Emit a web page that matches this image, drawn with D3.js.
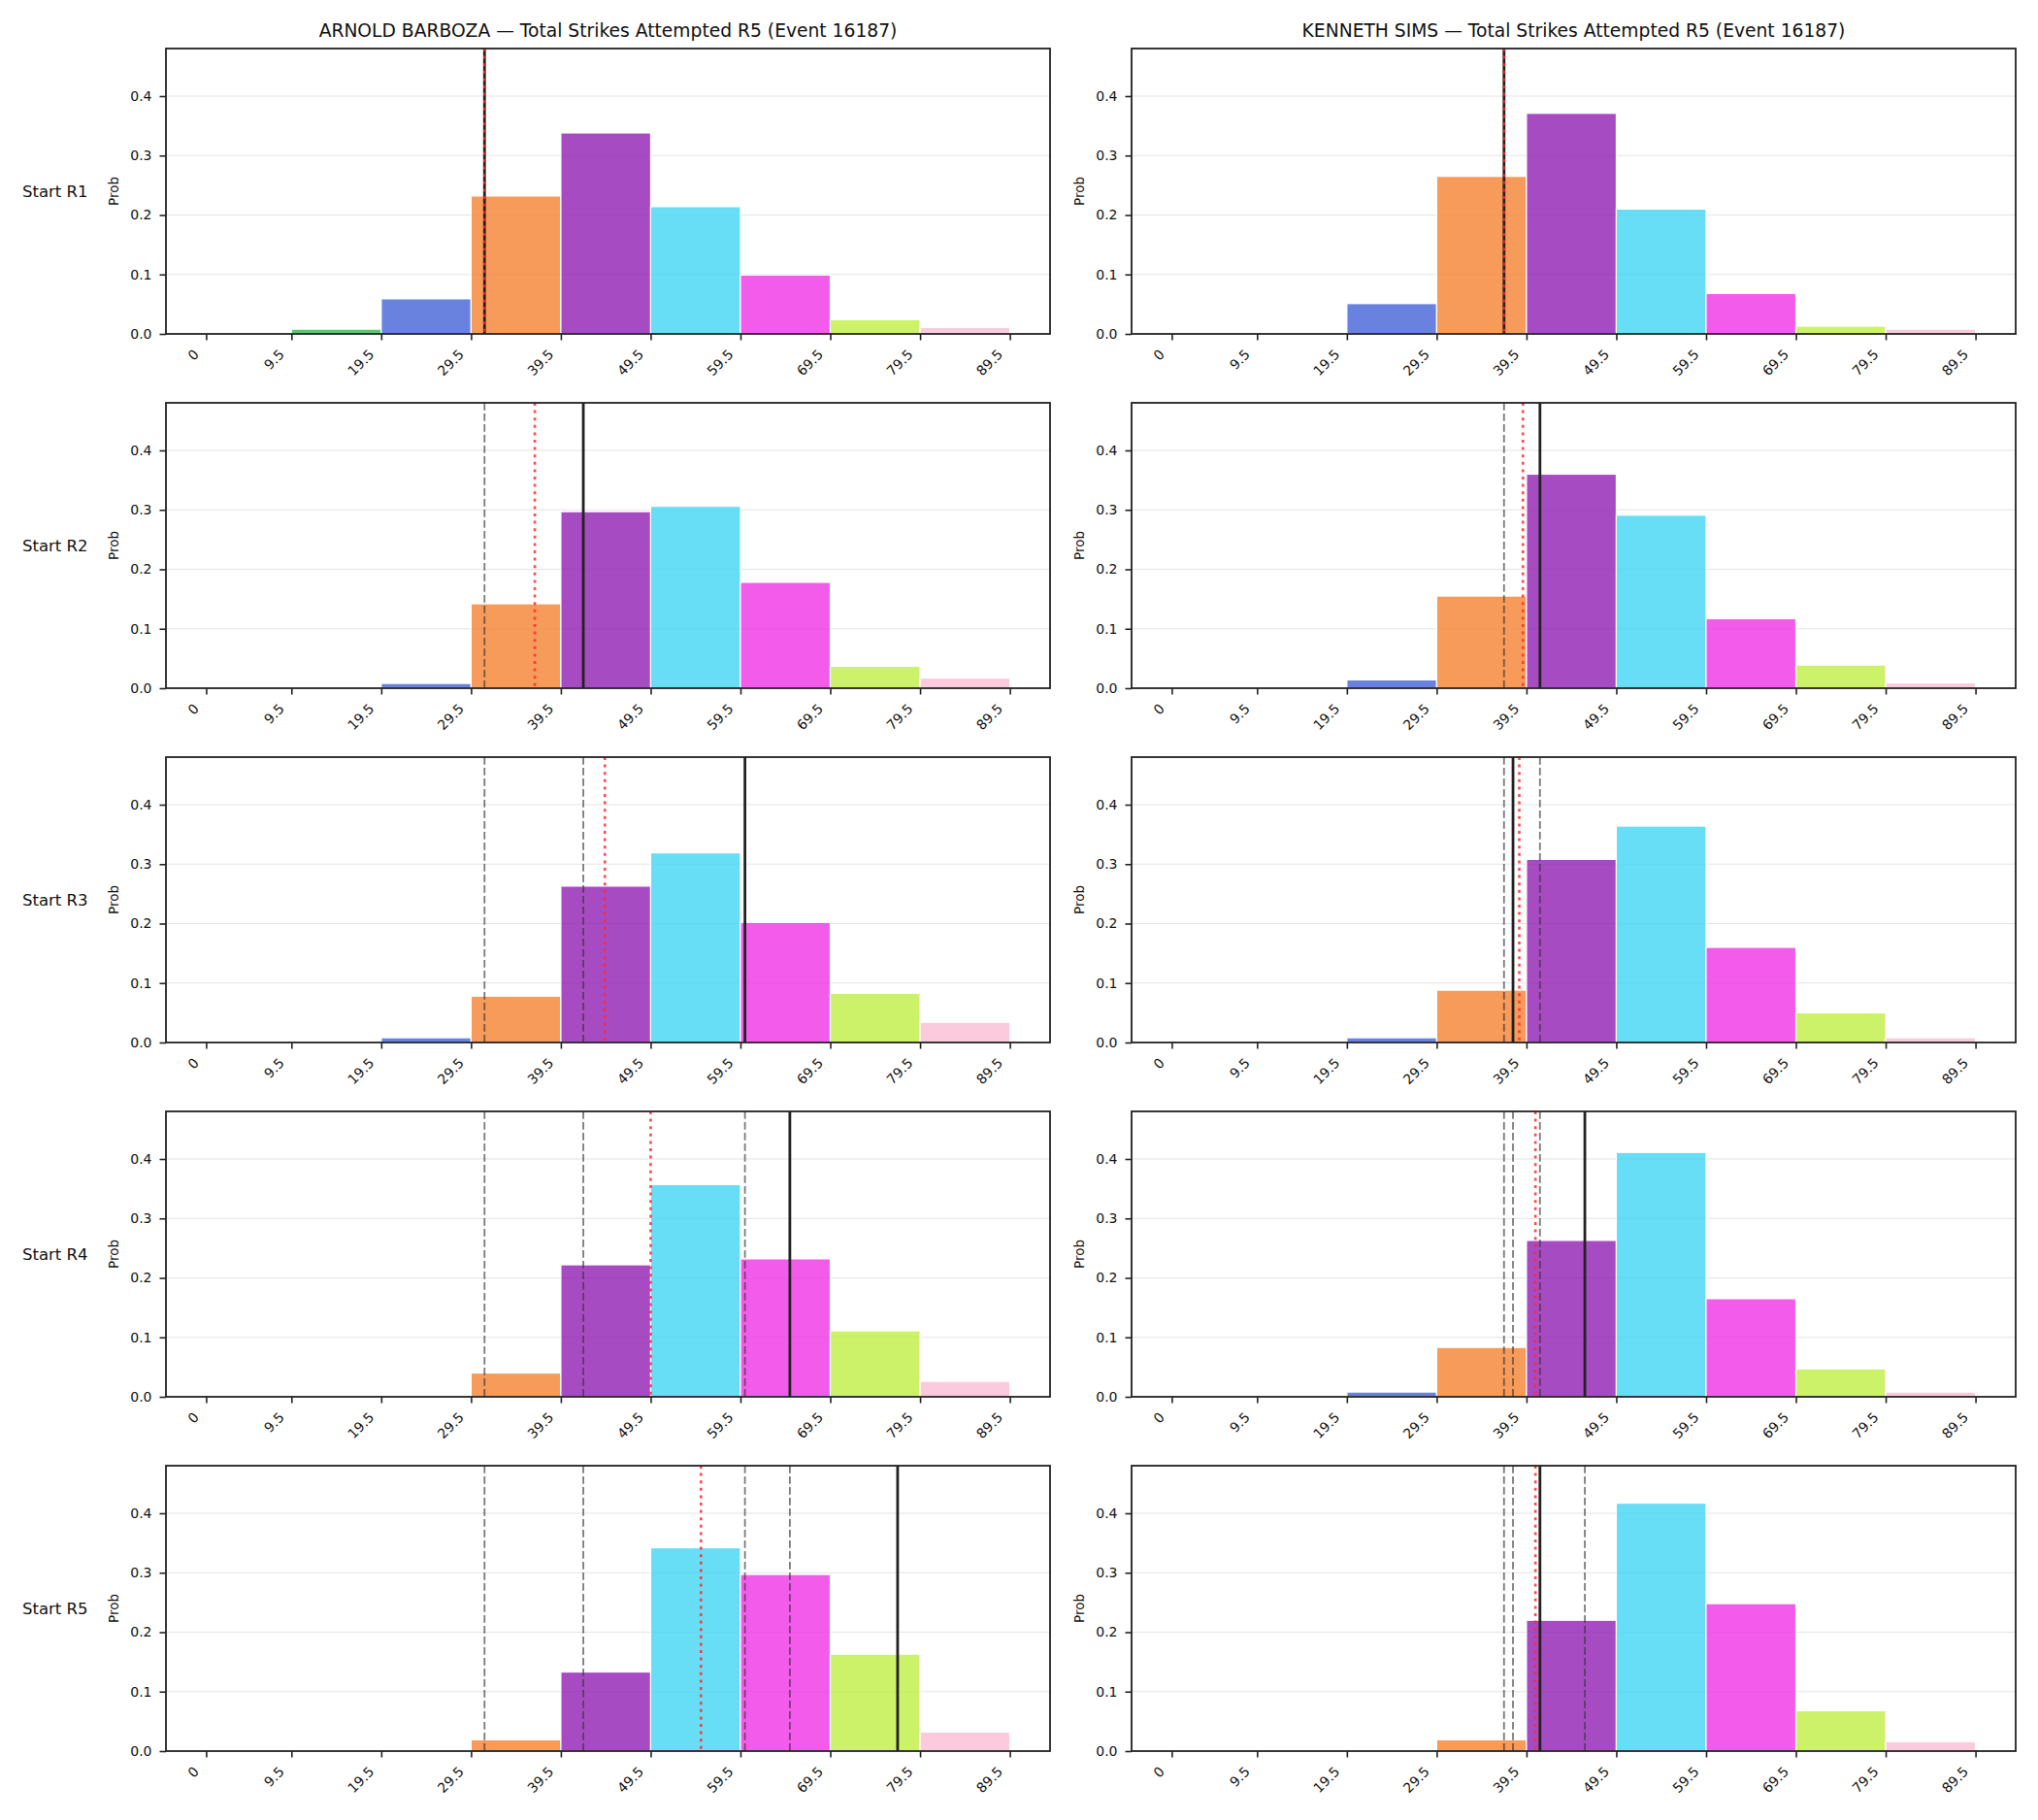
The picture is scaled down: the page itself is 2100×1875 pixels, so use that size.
<!DOCTYPE html>
<html>
<head>
<meta charset="utf-8">
<title>Total Strikes Attempted R5</title>
<script src="https://d3js.org/d3.v7.min.js"></script>
<style>
  body { margin: 0; background: #fff; }
  text { font-family: "DejaVu Sans", sans-serif; fill: #111; }
</style>
</head>
<body>
<div id="chart"></div>
<script>
// bin edges (also used as the x tick positions)
var binEdges = [0, 9.5, 19.5, 29.5, 39.5, 49.5, 59.5, 69.5, 79.5, 89.5];
var tickLabels = ["0", "9.5", "19.5", "29.5", "39.5", "49.5", "59.5", "69.5", "79.5", "89.5"];
var binColors = ["#e6194b", "#3cb44b", "#4363d8", "#f58231", "#911eb4", "#42d4f4", "#f032e6", "#bfef45", "#fabed4"];
var yTicks = [0, 0.1, 0.2, 0.3, 0.4];
var rowLabels = ["Start R1", "Start R2", "Start R3", "Start R4", "Start R5"];
var fighters = ["ARNOLD BARBOZA", "KENNETH SIMS"];

// probability per bin, one row per starting round
var barbozaProbs = [
    [0, 0.008, 0.059, 0.232, 0.338, 0.214, 0.099, 0.024, 0.011],
    [0, 0, 0.008, 0.142, 0.297, 0.306, 0.178, 0.037, 0.017],
    [0, 0, 0.008, 0.078, 0.263, 0.319, 0.202, 0.083, 0.034],
    [0, 0, 0, 0.040, 0.222, 0.357, 0.232, 0.111, 0.026],
    [0, 0, 0, 0.019, 0.133, 0.342, 0.297, 0.163, 0.032]
];
var simsProbs = [
    [0, 0, 0.051, 0.265, 0.371, 0.210, 0.068, 0.013, 0.008],
    [0, 0, 0.014, 0.155, 0.360, 0.291, 0.117, 0.039, 0.009],
    [0, 0, 0.008, 0.088, 0.308, 0.364, 0.160, 0.050, 0.008],
    [0, 0, 0.008, 0.083, 0.263, 0.411, 0.165, 0.047, 0.008],
    [0, 0, 0, 0.019, 0.220, 0.417, 0.248, 0.068, 0.016]
];

// solid line = actual, dotted red = model mean
var barbozaActual = [31, 42, 60, 65, 77];
var barbozaMean = [31.0, 36.6, 44.4, 49.5, 55.1];
var simsActual = [37, 41, 38, 46, 41];
var simsMean = [37.0, 39.1, 38.7, 40.5, 40.5];

var columns = [
    { name: fighters[0], probs: barbozaProbs, actual: barbozaActual, mean: barbozaMean },
    { name: fighters[1], probs: simsProbs, actual: simsActual, mean: simsMean }
];

var W = 2100, H = 1875;
var colLeft = [171, 1166];
var plotW = 911;
var rowTop = 50, rowStep = 365, plotH = 294;

var svg = d3.select("#chart").append("svg")
    .attr("width", W)
    .attr("height", H)
    .style("background", "#fff");

var x = d3.scaleLinear().domain([-4.475, 93.975]).range([0, plotW]);
var y = d3.scaleLinear().domain([0, 0.48]).range([plotH, 0]);

columns.forEach(function(col, c) {
    // column title
    svg.append("text")
        .attr("x", colLeft[c] + plotW / 2)
        .attr("y", 38)
        .attr("text-anchor", "middle")
        .style("font-size", "18.7px")
        .text(col.name + " \u2014 Total Strikes Attempted R5 (Event 16187)");

    col.probs.forEach(function(probs, r) {
        var g = svg.append("g")
            .attr("transform", "translate(" + colLeft[c] + "," + (rowTop + r * rowStep) + ")");

        // horizontal grid
        g.selectAll(".grid")
            .data(yTicks.filter(function(d) { return d > 0; }))
            .enter().append("line")
            .attr("x1", 0).attr("x2", plotW)
            .attr("y1", function(d) { return y(d); })
            .attr("y2", function(d) { return y(d); })
            .attr("stroke", "#e4e4e4")
            .attr("stroke-width", 1.2);

        // bars
        g.selectAll(".bar")
            .data(probs)
            .enter().append("rect")
            .attr("x", function(d, i) { return x(binEdges[i]); })
            .attr("width", function(d, i) { return x(binEdges[i + 1]) - x(binEdges[i]); })
            .attr("y", function(d) { return y(d); })
            .attr("height", function(d) { return plotH - y(d); })
            .attr("fill", function(d, i) { return binColors[i]; })
            .attr("fill-opacity", function(d) { return d > 0 ? 0.8 : 0; })
            .attr("stroke", "#fff")
            .attr("stroke-width", function(d) { return d > 0 ? 1.2 : 0; });

        // earlier actual values as dashed lines
        g.selectAll(".prev")
            .data(col.actual.slice(0, r))
            .enter().append("line")
            .attr("x1", function(d) { return x(d); })
            .attr("x2", function(d) { return x(d); })
            .attr("y1", 0).attr("y2", plotH)
            .attr("stroke", "#333")
            .attr("stroke-opacity", 0.65)
            .attr("stroke-width", 1.8)
            .attr("stroke-dasharray", "7.7,3.3");

        // actual value
        g.append("line")
            .attr("x1", x(col.actual[r])).attr("x2", x(col.actual[r]))
            .attr("y1", 0).attr("y2", plotH)
            .attr("stroke", "#222")
            .attr("stroke-width", 2.8);

        // model mean
        g.append("line")
            .attr("x1", x(col.mean[r])).attr("x2", x(col.mean[r]))
            .attr("y1", 0).attr("y2", plotH)
            .attr("stroke", "#ff2a2a")
            .attr("stroke-opacity", 0.85)
            .attr("stroke-width", 2.6)
            .attr("stroke-dasharray", "3,4.6");

        // frame
        g.append("rect")
            .attr("width", plotW).attr("height", plotH)
            .attr("fill", "none")
            .attr("stroke", "#222")
            .attr("stroke-width", 1.8);

        // x axis
        var xAxis = g.append("g")
            .attr("transform", "translate(0," + plotH + ")")
            .call(d3.axisBottom(x).tickValues(binEdges)
                .tickFormat(function(d, i) { return tickLabels[i]; })
                .tickSize(6.5).tickSizeOuter(0));
        xAxis.select(".domain").remove();
        xAxis.selectAll("line").attr("stroke", "#222").attr("stroke-width", 1.6);
        xAxis.selectAll("text")
            .attr("y", 0).attr("dy", null).attr("x", 0)
            .attr("text-anchor", "end")
            .attr("transform", "translate(-7,22) rotate(-45)")
            .style("font-size", "14px")
            .style("font-family", "DejaVu Sans, sans-serif")
            .attr("fill", "#111");

        // y axis
        var yAxis = g.append("g")
            .call(d3.axisLeft(y).tickValues(yTicks)
                .tickFormat(d3.format(".1f"))
                .tickSize(6.5).tickPadding(8).tickSizeOuter(0));
        yAxis.select(".domain").remove();
        yAxis.selectAll("line").attr("stroke", "#222").attr("stroke-width", 1.6);
        yAxis.selectAll("text")
            .style("font-size", "14px")
            .style("font-family", "DejaVu Sans, sans-serif")
            .attr("fill", "#111");

        // y label
        g.append("text")
            .attr("transform", "translate(" + (-54) + "," + (plotH / 2) + ") rotate(-90)")
            .attr("text-anchor", "middle")
            .attr("dy", "0.35em")
            .style("font-size", "13.5px")
            .text("Prob");

        // row label (left column only)
        if (c === 0) {
            svg.append("text")
                .attr("x", 23)
                .attr("y", rowTop + r * rowStep + plotH / 2 + 6)
                .style("font-size", "16.5px")
                .text(rowLabels[r]);
        }
    });
});
</script>
</body>
</html>
